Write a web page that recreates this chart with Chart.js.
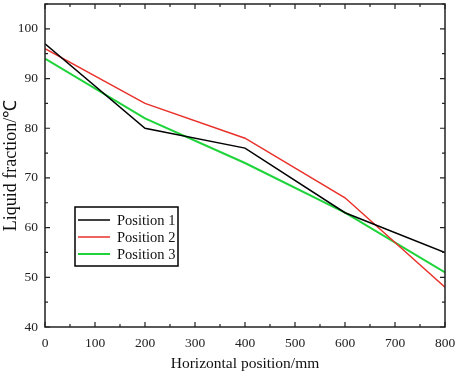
<!DOCTYPE html>
<html>
<head>
<meta charset="utf-8">
<script src="https://cdn.jsdelivr.net/npm/chart.js@4"></script>
<style>
  body { margin: 0; background: #fff; }
  #wrap { width: 457px; height: 373px; }
</style>
</head>
<body>
<div id="wrap"><canvas id="lineChart"></canvas></div>
<script>
const positions = [0, 200, 400, 600, 800];
const position1 = [97, 80, 76, 63, 55];
const position2 = [96, 85, 78, 66, 48];
const position3 = [94, 82, 73, 63, 51];
const seriesNames = ["Position 1", "Position 2", "Position 3"];
const seriesColors = ["#000000", "#e8312b", "#1fd43a"];

const serif = "'Liberation Serif', 'Times New Roman', serif";

const toPoints = (vals) => vals.map((v, i) => ({ x: positions[i], y: v }));

// inward ticks on all four sides + box frame
const frameTicks = {
  id: "frameTicks",
  afterDraw(chart) {
    const { ctx, chartArea: a, scales } = chart;
    ctx.save();
    ctx.strokeStyle = "#222";
    ctx.lineWidth = 1.5;
    ctx.strokeRect(a.left, a.top, a.right - a.left, a.bottom - a.top);
    ctx.lineWidth = 1.2;
    for (let v = 0; v <= 800; v += 50) {
      let px = scales.x.getPixelForValue(v);
      let len = v % 100 === 0 ? 5 : 3;
      ctx.beginPath();
      ctx.moveTo(px, a.bottom);
      ctx.lineTo(px, a.bottom - len);
      ctx.moveTo(px, a.top);
      ctx.lineTo(px, a.top + len);
      ctx.stroke();
    }
    for (let v = 40; v <= 105; v += 5) {
      let py = scales.y.getPixelForValue(v);
      let len = v % 10 === 0 ? 5 : 3;
      ctx.beginPath();
      ctx.moveTo(a.left, py);
      ctx.lineTo(a.left + len, py);
      ctx.moveTo(a.right, py);
      ctx.lineTo(a.right - len, py);
      ctx.stroke();
    }
    ctx.restore();
  },
};

// boxed legend inside the plot
const boxLegend = {
  id: "boxLegend",
  afterDraw(chart) {
    const { ctx, chartArea: a } = chart;
    const x0 = a.left + 30, y0 = a.top + 203, w = 103, h = 59;
    ctx.save();
    ctx.fillStyle = "#fff";
    ctx.fillRect(x0, y0, w, h);
    ctx.strokeStyle = "#000";
    ctx.lineWidth = 1.5;
    ctx.strokeRect(x0, y0, w, h);
    ctx.font = "14.5px " + serif;
    ctx.textBaseline = "middle";
    chart.data.datasets.forEach((ds, i) => {
      let y = y0 + 13 + i * 17;
      ctx.strokeStyle = ds.borderColor;
      ctx.lineWidth = ds.borderWidth;
      ctx.beginPath();
      ctx.moveTo(x0 + 3, y);
      ctx.lineTo(x0 + 35, y);
      ctx.stroke();
      ctx.fillStyle = "#111";
      ctx.fillText(ds.label, x0 + 42, y + 1);
    });
    ctx.restore();
  },
};

const ctx = document.getElementById("lineChart").getContext("2d");

window.lineChart = new Chart(ctx, {
  type: "line",
  data: {
    datasets: [position1, position2, position3].map((vals, i) => ({
      label: seriesNames[i],
      data: toPoints(vals),
      borderColor: seriesColors[i],
      borderWidth: i === 2 ? 2 : 1.5,
      pointRadius: 0,
      tension: 0,
    })),
  },
  options: {
    responsive: true,
    maintainAspectRatio: false,
    animation: false,
    layout: { padding: { top: 4, right: 12, left: 0, bottom: 0 } },
    scales: {
      x: {
        type: "linear",
        min: 0,
        max: 800,
        grid: { display: false, drawTicks: false },
        border: { display: false },
        ticks: {
          stepSize: 100,
          padding: 8,
          color: "#222",
          font: { family: serif, size: 13.5 },
        },
        title: {
          display: true,
          text: "Horizontal position/mm",
          color: "#111",
          padding: { top: 8, bottom: 0 },
          font: { family: serif, size: 15.5 },
        },
        afterFit: (s) => {
          s.height = 46;
          s.paddingLeft = 0;
          s.paddingRight = 0;
        },
      },
      y: {
        min: 40,
        max: 105,
        grid: { display: false, drawTicks: false },
        border: { display: false },
        afterBuildTicks: (s) => {
          s.ticks = s.ticks.filter((t) => t.value % 10 === 0);
        },
        ticks: {
          stepSize: 10,
          padding: 7,
          color: "#222",
          font: { family: serif, size: 13.5 },
        },
        title: {
          display: true,
          text: "Liquid fraction/℃",
          color: "#111",
          padding: { top: 0, bottom: 0 },
          font: { family: serif, size: 18 },
        },
        afterFit: (s) => {
          s.width = 45;
          s.paddingTop = 0;
          s.paddingBottom = 0;
        },
      },
    },
    plugins: {
      legend: { display: false },
      tooltip: { enabled: false },
    },
  },
  plugins: [frameTicks, boxLegend],
});
</script>
</body>
</html>
